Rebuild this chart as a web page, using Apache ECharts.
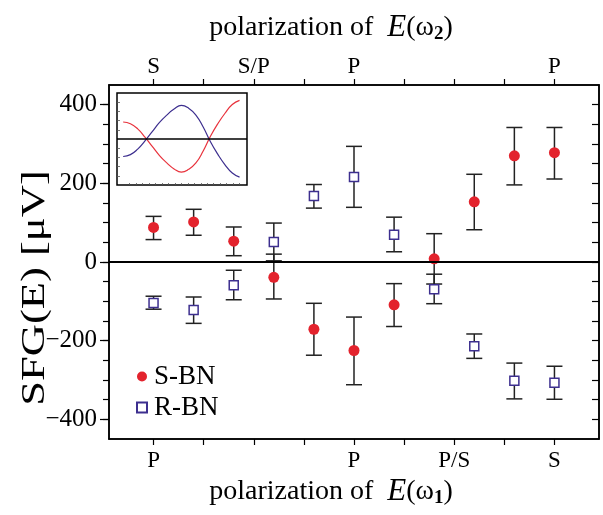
<!DOCTYPE html>
<html>
<head>
<meta charset="utf-8">
<script src="https://cdn.jsdelivr.net/npm/echarts@6/dist/echarts.min.js"></script>
<style>
  html, body { margin: 0; padding: 0; background: #fff; }
  #chart { width: 603px; height: 515px; }
</style>
</head>
<body>
<div id="chart"></div>
<script>
// wave plate angle (deg) of each measurement
const angles = [0, 36, 72, 108, 144, 180, 216, 252, 288, 324, 360]

// S-BN: value, lower / upper end of error bar (µV)
const sbnValue = [88, 102, 53, -39, -171, -225, -109, 8, 153, 270, 278]
const sbnLow = [57, 68, 16, -94, -237, -312, -164, -56, 82, 196, 211]
const sbnHigh = [116, 134, 89, 20, -105, -140, -55, 72, 223, 342, 342]

// R-BN
const rbnValue = [-104, -122, -59, 51, 168, 216, 69, -69, -214, -302, -307]
const rbnLow = [-120, -156, -96, 3, 137, 139, 26, -106, -245, -348, -349]
const rbnHigh = [-87, -89, -21, 99, 197, 294, 114, -31, -183, -257, -265]

// inset curves (relative units)
const insetAngles = [0, 22.5, 45, 67.5, 90, 112.5, 135, 157.5, 180, 202.5, 225, 247.5, 270, 292.5, 315, 337.5, 360]
const insetRed = [0.37, 0.33, 0.22, 0.04, -0.16, -0.36, -0.52, -0.65, -0.72, -0.66, -0.52, -0.26, 0.06, 0.33, 0.56, 0.75, 0.84]
const insetBlue = [-0.38, -0.34, -0.22, -0.04, 0.16, 0.36, 0.52, 0.65, 0.73, 0.67, 0.52, 0.26, -0.06, -0.33, -0.56, -0.74, -0.83]

// tick labels
const xTicks = [0, 45, 90, 135, 180, 225, 270, 315, 360]
const bottomLabels = { 0: "P", 180: "P", 270: "P/S", 360: "S" }
const topLabels = { 0: "S", 90: "S/P", 180: "P", 360: "P" }
const yLabels = [-400, -200, 0, 200, 400]
const yTicks = [-400, -350, -300, -250, -200, -150, -100, -50, 0, 50, 100, 150, 200, 250, 300, 350, 400]

const FONT = "Liberation Serif"
const RED = "#e3232d"
const BLUE = "#3d2f8f"

function errorBars(low, high) {
  return {
    type: "custom",
    xAxisIndex: 0,
    yAxisIndex: 0,
    z: 2,
    silent: true,
    data: angles.map((a, i) => [a, low[i], high[i]]),
    renderItem(params, api) {
      const lo = api.coord([api.value(0), api.value(1)])
      const hi = api.coord([api.value(0), api.value(2)])
      const w = 8
      const style = { stroke: "#222", lineWidth: 1.5 }
      return {
        type: "group",
        children: [
          { type: "line", shape: { x1: lo[0], y1: lo[1], x2: hi[0], y2: hi[1] }, style },
          { type: "line", shape: { x1: lo[0] - w, y1: lo[1], x2: lo[0] + w, y2: lo[1] }, style },
          { type: "line", shape: { x1: hi[0] - w, y1: hi[1], x2: hi[0] + w, y2: hi[1] }, style }
        ]
      }
    }
  }
}

function titleText(sub, y) {
  return {
    type: "text",
    x: 331,
    y: y,
    style: {
      text: "{t|polarization of  }{e|E}{t|(ω}{s|" + sub + "}{t|)}",
      fill: "#000",
      align: "center",
      verticalAlign: "middle",
      textAlign: "center",
      textVerticalAlign: "middle",
      rich: {
        t: { fontSize: 28, fontFamily: FONT },
        e: { fontSize: 31, fontFamily: FONT, fontStyle: "italic" },
        s: { fontSize: 19, fontFamily: FONT, fontWeight: "bold", padding: [12, 0, 0, 0] }
      }
    }
  }
}

const chart = echarts.init(document.getElementById("chart"))

const axisLine = { show: true, onZero: false, lineStyle: { color: "#000", width: 1.5 } }
const labelFont = { color: "#000", fontFamily: FONT }

chart.setOption({
  animation: false,
  backgroundColor: "#fff",
  grid: [
    { left: 109, right: 4, top: 85, bottom: 76, show: true, borderColor: "#000", borderWidth: 1.5 },
    { left: 117, top: 93, width: 130, height: 92, show: true, borderColor: "#000", borderWidth: 1.5, backgroundColor: "#fff" }
  ],
  legend: {
    orient: "vertical",
    left: 131,
    top: 358,
    itemWidth: 10,
    itemHeight: 10,
    itemGap: 4,
    textStyle: { fontSize: 27, fontFamily: FONT, color: "#000", padding: [0, 0, 0, 2] },
    data: [
      { name: "S-BN", icon: "circle" },
      { name: "R-BN", icon: "rect" }
    ]
  },
  xAxis: [
    {
      gridIndex: 0,
      type: "value",
      position: "bottom",
      min: -40,
      max: 400,
      axisLine: axisLine,
      axisTick: { show: true, inside: false, length: 6, customValues: xTicks, lineStyle: { color: "#000", width: 1.2 } },
      axisLabel: { ...labelFont, fontSize: 23, margin: 10, customValues: Object.keys(bottomLabels).map(Number), formatter: (v) => bottomLabels[v] || "" },
      splitLine: { show: false }
    },
    {
      gridIndex: 0,
      type: "value",
      position: "top",
      min: -40,
      max: 400,
      axisLine: axisLine,
      axisTick: { show: true, inside: false, length: 6, customValues: xTicks, lineStyle: { color: "#000", width: 1.2 } },
      axisLabel: { ...labelFont, fontSize: 23, margin: 7, customValues: Object.keys(topLabels).map(Number), formatter: (v) => topLabels[v] || "" },
      splitLine: { show: false }
    },
    {
      gridIndex: 1,
      type: "value",
      min: -19,
      max: 383,
      axisLine: { show: false, onZero: false },
      axisTick: { show: true, inside: true, length: 2, customValues: [20, 40, 60, 80, 100, 120, 140, 160, 180, 200, 220, 240, 260, 280, 300, 320, 340, 360], lineStyle: { color: "#555", width: 0.8 } },
      axisLabel: { show: false },
      splitLine: { show: false }
    }
  ],
  yAxis: [
    {
      gridIndex: 0,
      type: "value",
      position: "left",
      min: -450,
      max: 450,
      axisLine: axisLine,
      axisTick: { show: true, inside: false, length: 9, customValues: yLabels, lineStyle: { color: "#000", width: 1.2 } },
      axisLabel: { ...labelFont, fontSize: 25, margin: 12, customValues: yLabels, formatter: (v) => (v < 0 ? "\u2212" + -v : String(v)) },
      splitLine: { show: false }
    },
    {
      gridIndex: 0,
      type: "value",
      position: "right",
      min: -450,
      max: 450,
      axisLine: axisLine,
      axisTick: { show: true, inside: true, length: 7, customValues: yTicks, lineStyle: { color: "#000", width: 1.2 } },
      axisLabel: { show: false },
      splitLine: { show: false }
    },
    {
      gridIndex: 1,
      type: "value",
      min: -1,
      max: 1,
      axisLine: { show: false, onZero: false },
      axisTick: { show: true, inside: true, length: 3, customValues: [-0.8, -0.6, -0.4, -0.2, 0.2, 0.4, 0.6, 0.8], lineStyle: { color: "#555", width: 0.8 } },
      axisLabel: { show: false },
      splitLine: { show: false }
    },
    {
      // minor ticks on the left axis
      gridIndex: 0,
      type: "value",
      position: "left",
      min: -450,
      max: 450,
      axisLine: { show: false, onZero: false },
      axisTick: { show: true, inside: false, length: 6, customValues: yTicks, lineStyle: { color: "#000", width: 1.2 } },
      axisLabel: { show: false },
      splitLine: { show: false }
    }
  ],
  graphic: [
    titleText("2", 28),
    titleText("1", 492),
    {
      type: "text",
      x: 35,
      y: 288,
      rotation: Math.PI / 2,
      scaleX: 1.35,
      style: {
        text: "{t|SFG(E) [μV]}",
        fill: "#000",
        align: "center",
        verticalAlign: "middle",
        textAlign: "center",
        textVerticalAlign: "middle",
        rich: { t: { fontSize: 33, fontFamily: FONT } }
      }
    }
  ],
  series: [
    errorBars(rbnLow, rbnHigh),
    errorBars(sbnLow, sbnHigh),
    {
      name: "R-BN",
      type: "scatter",
      xAxisIndex: 0,
      yAxisIndex: 0,
      z: 3,
      symbol: "rect",
      symbolSize: 9,
      itemStyle: { color: "#fff", borderColor: BLUE, borderWidth: 1.5, opacity: 1 },
      data: angles.map((a, i) => [a, rbnValue[i]])
    },
    {
      name: "S-BN",
      type: "scatter",
      xAxisIndex: 0,
      yAxisIndex: 0,
      z: 4,
      symbol: "circle",
      symbolSize: 11,
      itemStyle: { color: RED, opacity: 1 },
      data: angles.map((a, i) => [a, sbnValue[i]]),
      markLine: {
        silent: true,
        symbol: ["none", "none"],
        label: { show: false },
        lineStyle: { color: "#000", width: 2, type: "solid" },
        data: [{ yAxis: 0 }]
      }
    },
    {
      type: "line",
      xAxisIndex: 2,
      yAxisIndex: 2,
      smooth: true,
      showSymbol: false,
      lineStyle: { color: "#e8323c", width: 1.2 },
      data: insetAngles.map((a, i) => [a, insetRed[i]]),
      markLine: {
        silent: true,
        symbol: ["none", "none"],
        label: { show: false },
        lineStyle: { color: "#000", width: 1.5, type: "solid" },
        data: [{ yAxis: 0 }]
      }
    },
    {
      type: "line",
      xAxisIndex: 2,
      yAxisIndex: 2,
      smooth: true,
      showSymbol: false,
      lineStyle: { color: BLUE, width: 1.2 },
      data: insetAngles.map((a, i) => [a, insetBlue[i]])
    }
  ]
})
</script>
</body>
</html>
